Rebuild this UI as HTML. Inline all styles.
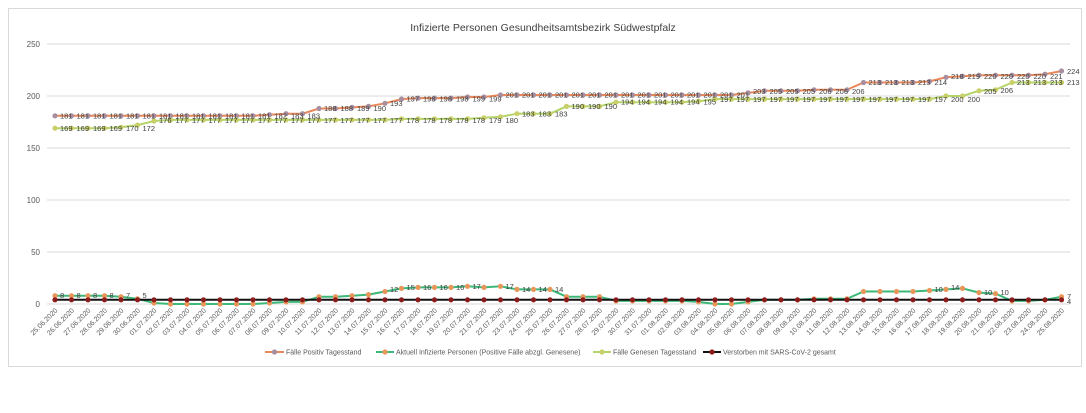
<!DOCTYPE html>
<html><head><meta charset="utf-8"><style>
body{margin:0;background:#fff;}
svg{display:block;font-family:"Liberation Sans",sans-serif;}
.d{font-size:7px;fill:#595959;}
.l{font-size:7.5px;fill:#404040;}
.y{font-size:8px;fill:#595959;}
</style></head><body>
<svg width="1086" height="413" viewBox="0 0 1086 413">
<defs>
<marker id="mp" markerWidth="6" markerHeight="6" refX="3" refY="3" markerUnits="userSpaceOnUse"><circle cx="3" cy="3" r="2.6" fill="#a88e9e"/></marker>
<marker id="mg" markerWidth="6" markerHeight="6" refX="3" refY="3" markerUnits="userSpaceOnUse"><circle cx="3" cy="3" r="2.6" fill="#c9d06a"/></marker>
<marker id="ma" markerWidth="6" markerHeight="6" refX="3" refY="3" markerUnits="userSpaceOnUse"><circle cx="3" cy="3" r="2.6" fill="#e8965a"/></marker>
<marker id="md" markerWidth="6" markerHeight="6" refX="3" refY="3" markerUnits="userSpaceOnUse"><circle cx="3" cy="3" r="2.6" fill="#8b1c1c"/></marker>
</defs>
<rect x="8.5" y="8.5" width="1073" height="358" fill="#fff" stroke="#d9d9d9"/>
<text x="543" y="31" text-anchor="middle" style="font-size:10.5px;fill:#404040">Infizierte Personen Gesundheitsamtsbezirk Südwestpfalz</text>
<g stroke="#d9d9d9" stroke-width="1">
<line x1="47" y1="44" x2="1070" y2="44"/><line x1="47" y1="96" x2="1070" y2="96"/><line x1="47" y1="148" x2="1070" y2="148"/><line x1="47" y1="200" x2="1070" y2="200"/><line x1="47" y1="252" x2="1070" y2="252"/><line x1="47" y1="304" x2="1070" y2="304"/>
</g>
<g class="y" text-anchor="end">
<text x="40" y="47">250</text><text x="40" y="99">200</text><text x="40" y="151">150</text><text x="40" y="203">100</text><text x="40" y="255">50</text><text x="40" y="307">0</text>
</g>
<polyline fill="none" stroke="#e8875a" stroke-width="2" marker-start="url(#mp)" marker-mid="url(#mp)" marker-end="url(#mp)" points="55,115.8 71.5,115.8 88,115.8 104.5,115.8 121,115.8 137.5,115.8 154,115.8 170.5,115.8 187,115.8 203.5,115.8 220,115.8 236.5,115.8 253,115.8 269.5,114.7 286,113.7 302.5,113.7 319,108.5 335.5,108.5 352,107.4 368.5,106.4 385,103.3 401.5,99.1 418,98.1 434.5,98.1 451,98.1 467.5,97 484,97 500.5,95 517,95 533.5,95 550,95 566.5,95 583,95 599.5,95 616,95 632.5,95 649,95 665.5,95 682,95 698.5,95 715,95 731.5,95 748,92.9 764.5,90.8 781,90.8 797.5,90.8 814,89.8 830.5,89.8 847,89.8 863.5,82.5 880,82.5 896.5,82.5 913,82.5 929.5,81.4 946,77.3 962.5,76.2 979,75.2 995.5,75.2 1012,75.2 1028.5,75.2 1045,74.2 1061.5,71"/>
<polyline fill="none" stroke="#b5d56a" stroke-width="2" marker-start="url(#mg)" marker-mid="url(#mg)" marker-end="url(#mg)" points="55,128.2 71.5,128.2 88,128.2 104.5,128.2 121,127.2 137.5,125.1 154,121 170.5,119.9 187,119.9 203.5,119.9 220,119.9 236.5,119.9 253,119.9 269.5,119.9 286,119.9 302.5,119.9 319,119.9 335.5,119.9 352,119.9 368.5,119.9 385,119.9 401.5,118.9 418,118.9 434.5,118.9 451,118.9 467.5,118.9 484,117.8 500.5,116.8 517,113.7 533.5,113.7 550,113.7 566.5,106.4 583,106.4 599.5,106.4 616,102.2 632.5,102.2 649,102.2 665.5,102.2 682,102.2 698.5,101.2 715,99.1 731.5,99.1 748,99.1 764.5,99.1 781,99.1 797.5,99.1 814,99.1 830.5,99.1 847,99.1 863.5,99.1 880,99.1 896.5,99.1 913,99.1 929.5,99.1 946,96 962.5,96 979,90.8 995.5,89.8 1012,82.5 1028.5,82.5 1045,82.5 1061.5,82.5"/>
<polyline fill="none" stroke="#3cb878" stroke-width="2" marker-start="url(#ma)" marker-mid="url(#ma)" marker-end="url(#ma)" points="55,295.7 71.5,295.7 88,295.7 104.5,295.7 121,296.7 137.5,298.8 154,303 170.5,304 187,304 203.5,304 220,304 236.5,304 253,304 269.5,303 286,301.9 302.5,301.9 319,296.7 335.5,296.7 352,295.7 368.5,294.6 385,291.5 401.5,288.4 418,287.4 434.5,287.4 451,287.4 467.5,286.3 484,287.4 500.5,286.3 517,289.4 533.5,289.4 550,289.4 566.5,296.7 583,296.7 599.5,296.7 616,300.9 632.5,300.9 649,300.9 665.5,300.9 682,300.9 698.5,301.9 715,304 731.5,304 748,301.9 764.5,299.8 781,299.8 797.5,299.8 814,298.8 830.5,298.8 847,298.8 863.5,291.5 880,291.5 896.5,291.5 913,291.5 929.5,290.5 946,289.4 962.5,288.4 979,292.6 995.5,293.6 1012,300.9 1028.5,300.9 1045,299.8 1061.5,296.7"/>
<polyline fill="none" stroke="#111" stroke-width="2" marker-start="url(#md)" marker-mid="url(#md)" marker-end="url(#md)" points="55,299.8 71.5,299.8 88,299.8 104.5,299.8 121,299.8 137.5,299.8 154,299.8 170.5,299.8 187,299.8 203.5,299.8 220,299.8 236.5,299.8 253,299.8 269.5,299.8 286,299.8 302.5,299.8 319,299.8 335.5,299.8 352,299.8 368.5,299.8 385,299.8 401.5,299.8 418,299.8 434.5,299.8 451,299.8 467.5,299.8 484,299.8 500.5,299.8 517,299.8 533.5,299.8 550,299.8 566.5,299.8 583,299.8 599.5,299.8 616,299.8 632.5,299.8 649,299.8 665.5,299.8 682,299.8 698.5,299.8 715,299.8 731.5,299.8 748,299.8 764.5,299.8 781,299.8 797.5,299.8 814,299.8 830.5,299.8 847,299.8 863.5,299.8 880,299.8 896.5,299.8 913,299.8 929.5,299.8 946,299.8 962.5,299.8 979,299.8 995.5,299.8 1012,299.8 1028.5,299.8 1045,299.8 1061.5,299.8"/>
<g class="l">
<text y="118.5"><tspan x="60">181</tspan><tspan x="76.5">181</tspan><tspan x="93">181</tspan><tspan x="109.5">181</tspan><tspan x="126">181</tspan><tspan x="142.5">181</tspan><tspan x="159">181</tspan><tspan x="175.5">181</tspan><tspan x="192">181</tspan><tspan x="208.5">181</tspan><tspan x="225">181</tspan><tspan x="241.5">181</tspan><tspan x="258">181</tspan><tspan x="274.5">182</tspan><tspan x="291">183</tspan><tspan x="307.5">183</tspan></text>
<text y="111"><tspan x="324">188</tspan><tspan x="340.5">188</tspan><tspan x="357">189</tspan><tspan x="373.5">190</tspan></text>
<text y="106"><tspan x="390">193</tspan></text>
<text y="101.5"><tspan x="406.5">197</tspan><tspan x="423">198</tspan><tspan x="439.5">198</tspan><tspan x="456">198</tspan><tspan x="472.5">199</tspan><tspan x="489">199</tspan></text>
<text y="97.5"><tspan x="505.5">201</tspan><tspan x="522">201</tspan><tspan x="538.5">201</tspan><tspan x="555">201</tspan><tspan x="571.5">201</tspan><tspan x="588">201</tspan><tspan x="604.5">201</tspan><tspan x="621">201</tspan><tspan x="637.5">201</tspan><tspan x="654">201</tspan><tspan x="670.5">201</tspan><tspan x="687">201</tspan><tspan x="703.5">201</tspan><tspan x="720">201</tspan><tspan x="736.5">201</tspan></text>
<text y="94"><tspan x="753">203</tspan><tspan x="769.5">205</tspan><tspan x="786">205</tspan><tspan x="802.5">205</tspan><tspan x="819">206</tspan><tspan x="835.5">206</tspan><tspan x="852">206</tspan></text>
<text y="85"><tspan x="868.5">213</tspan><tspan x="885">213</tspan><tspan x="901.5">213</tspan><tspan x="918">213</tspan><tspan x="934.5">214</tspan></text>
<text y="79"><tspan x="951">218</tspan><tspan x="967.5">219</tspan><tspan x="984">220</tspan><tspan x="1000.5">220</tspan><tspan x="1017">220</tspan><tspan x="1033.5">220</tspan><tspan x="1050">221</tspan><tspan x="1067" y="74">224</tspan></text>
<text y="131"><tspan x="60">169</tspan><tspan x="76.5">169</tspan><tspan x="93">169</tspan><tspan x="109.5">169</tspan><tspan x="126">170</tspan><tspan x="142.5">172</tspan></text>
<text y="123"><tspan x="159">176</tspan><tspan x="175.5">177</tspan><tspan x="192">177</tspan><tspan x="208.5">177</tspan><tspan x="225">177</tspan><tspan x="241.5">177</tspan><tspan x="258">177</tspan><tspan x="274.5">177</tspan><tspan x="291">177</tspan><tspan x="307.5">177</tspan><tspan x="324">177</tspan><tspan x="340.5">177</tspan><tspan x="357">177</tspan><tspan x="373.5">177</tspan><tspan x="390">177</tspan><tspan x="406.5">178</tspan><tspan x="423">178</tspan><tspan x="439.5">178</tspan><tspan x="456">178</tspan><tspan x="472.5">178</tspan><tspan x="489">179</tspan><tspan x="505.5">180</tspan></text>
<text y="116.5"><tspan x="522">183</tspan><tspan x="538.5">183</tspan><tspan x="555">183</tspan></text>
<text y="109"><tspan x="571.5">190</tspan><tspan x="588">190</tspan><tspan x="604.5">190</tspan></text>
<text y="104.5"><tspan x="621">194</tspan><tspan x="637.5">194</tspan><tspan x="654">194</tspan><tspan x="670.5">194</tspan><tspan x="687">194</tspan><tspan x="703.5">195</tspan></text>
<text y="102"><tspan x="720">197</tspan><tspan x="736.5">197</tspan><tspan x="753">197</tspan><tspan x="769.5">197</tspan><tspan x="786">197</tspan><tspan x="802.5">197</tspan><tspan x="819">197</tspan><tspan x="835.5">197</tspan><tspan x="852">197</tspan><tspan x="868.5">197</tspan><tspan x="885">197</tspan><tspan x="901.5">197</tspan><tspan x="918">197</tspan><tspan x="934.5">197</tspan><tspan x="951">200</tspan><tspan x="967.5">200</tspan><tspan x="984" y="94">205</tspan><tspan x="1000.5" y="93">206</tspan></text>
<text y="85"><tspan x="1017">213</tspan><tspan x="1033.5">213</tspan><tspan x="1050">213</tspan><tspan x="1067">213</tspan></text>
<text y="298"><tspan x="60">8</tspan><tspan x="76.5">8</tspan><tspan x="93">8</tspan><tspan x="109.5">8</tspan><tspan x="126">7</tspan><tspan x="142.5">5</tspan><tspan x="390" y="292">12</tspan><tspan x="406.5" y="290">15</tspan><tspan x="423" y="290">16</tspan><tspan x="439.5" y="290">16</tspan><tspan x="456" y="290">16</tspan><tspan x="472.5" y="289">17</tspan><tspan x="505.5" y="289">17</tspan><tspan x="522" y="292">14</tspan><tspan x="538.5" y="292">14</tspan><tspan x="555" y="292">14</tspan><tspan x="934.5" y="292">10</tspan><tspan x="951" y="290">14</tspan><tspan x="984" y="295">10</tspan><tspan x="1000.5" y="295">10</tspan><tspan x="1067" y="299">7</tspan><tspan x="1067" y="304">4</tspan></text>
</g>
<g class="d" text-anchor="end">
<text transform="translate(58,311) rotate(-45)">25.06.2020</text><text transform="translate(74.5,311) rotate(-45)">26.06.2020</text><text transform="translate(91,311) rotate(-45)">27.06.2020</text><text transform="translate(107.5,311) rotate(-45)">28.06.2020</text><text transform="translate(124,311) rotate(-45)">29.06.2020</text><text transform="translate(140.5,311) rotate(-45)">30.06.2020</text><text transform="translate(157,311) rotate(-45)">01.07.2020</text><text transform="translate(173.5,311) rotate(-45)">02.07.2020</text><text transform="translate(190,311) rotate(-45)">03.07.2020</text><text transform="translate(206.5,311) rotate(-45)">04.07.2020</text><text transform="translate(223,311) rotate(-45)">05.07.2020</text><text transform="translate(239.5,311) rotate(-45)">06.07.2020</text><text transform="translate(256,311) rotate(-45)">07.07.2020</text><text transform="translate(272.5,311) rotate(-45)">08.07.2020</text><text transform="translate(289,311) rotate(-45)">09.07.2020</text><text transform="translate(305.5,311) rotate(-45)">10.07.2020</text><text transform="translate(322,311) rotate(-45)">11.07.2020</text><text transform="translate(338.5,311) rotate(-45)">12.07.2020</text><text transform="translate(355,311) rotate(-45)">13.07.2020</text><text transform="translate(371.5,311) rotate(-45)">14.07.2020</text><text transform="translate(388,311) rotate(-45)">15.07.2020</text><text transform="translate(404.5,311) rotate(-45)">16.07.2020</text><text transform="translate(421,311) rotate(-45)">17.07.2020</text><text transform="translate(437.5,311) rotate(-45)">18.07.2020</text><text transform="translate(454,311) rotate(-45)">19.07.2020</text><text transform="translate(470.5,311) rotate(-45)">20.07.2020</text><text transform="translate(487,311) rotate(-45)">21.07.2020</text><text transform="translate(503.5,311) rotate(-45)">22.07.2020</text><text transform="translate(520,311) rotate(-45)">23.07.2020</text><text transform="translate(536.5,311) rotate(-45)">24.07.2020</text><text transform="translate(553,311) rotate(-45)">25.07.2020</text><text transform="translate(569.5,311) rotate(-45)">26.07.2020</text><text transform="translate(586,311) rotate(-45)">27.07.2020</text><text transform="translate(602.5,311) rotate(-45)">28.07.2020</text><text transform="translate(619,311) rotate(-45)">29.07.2020</text><text transform="translate(635.5,311) rotate(-45)">30.07.2020</text><text transform="translate(652,311) rotate(-45)">31.07.2020</text><text transform="translate(668.5,311) rotate(-45)">01.08.2020</text><text transform="translate(685,311) rotate(-45)">02.08.2020</text><text transform="translate(701.5,311) rotate(-45)">03.08.2020</text><text transform="translate(718,311) rotate(-45)">04.08.2020</text><text transform="translate(734.5,311) rotate(-45)">05.08.2020</text><text transform="translate(751,311) rotate(-45)">06.08.2020</text><text transform="translate(767.5,311) rotate(-45)">07.08.2020</text><text transform="translate(784,311) rotate(-45)">08.08.2020</text><text transform="translate(800.5,311) rotate(-45)">09.08.2020</text><text transform="translate(817,311) rotate(-45)">10.08.2020</text><text transform="translate(833.5,311) rotate(-45)">11.08.2020</text><text transform="translate(850,311) rotate(-45)">12.08.2020</text><text transform="translate(866.5,311) rotate(-45)">13.08.2020</text><text transform="translate(883,311) rotate(-45)">14.08.2020</text><text transform="translate(899.5,311) rotate(-45)">15.08.2020</text><text transform="translate(916,311) rotate(-45)">16.08.2020</text><text transform="translate(932.5,311) rotate(-45)">17.08.2020</text><text transform="translate(949,311) rotate(-45)">18.08.2020</text><text transform="translate(965.5,311) rotate(-45)">19.08.2020</text><text transform="translate(982,311) rotate(-45)">20.08.2020</text><text transform="translate(998.5,311) rotate(-45)">21.08.2020</text><text transform="translate(1015,311) rotate(-45)">22.08.2020</text><text transform="translate(1031.5,311) rotate(-45)">23.08.2020</text><text transform="translate(1048,311) rotate(-45)">24.08.2020</text><text transform="translate(1064.5,311) rotate(-45)">25.08.2020</text>
</g>
<g style="font-size:7px;fill:#595959">
<line x1="265" y1="352" x2="284" y2="352" stroke="#e8875a" stroke-width="2"/><circle cx="274.5" cy="352" r="2.6" fill="#a88e9e"/><text x="286" y="354.5">Fälle Positiv Tagesstand</text>
<line x1="376" y1="352" x2="394" y2="352" stroke="#3cb878" stroke-width="2"/><circle cx="385" cy="352" r="2.6" fill="#e8965a"/><text x="396" y="354.5">Aktuell Infizierte Personen (Positive Fälle abzgl. Genesene)</text>
<line x1="593" y1="352" x2="611" y2="352" stroke="#b5d56a" stroke-width="2"/><circle cx="602" cy="352" r="2.6" fill="#c9d06a"/><text x="613" y="354.5">Fälle Genesen Tagesstand</text>
<line x1="703" y1="352" x2="721" y2="352" stroke="#111" stroke-width="2"/><circle cx="712" cy="352" r="2.6" fill="#8b1c1c"/><text x="723" y="354.5">Verstorben mit SARS-CoV-2 gesamt</text>
</g>
</svg>
</body></html>
